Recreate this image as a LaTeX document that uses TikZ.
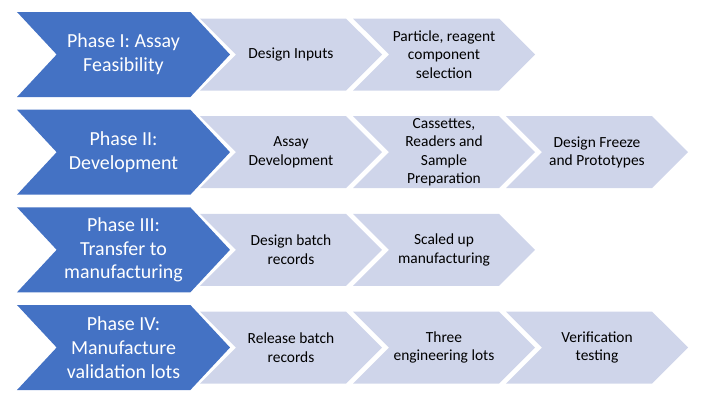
\documentclass[tikz,border=0pt]{standalone}
\usepackage{fontspec}
\setmainfont{Carlito}
\usetikzlibrary{shapes.symbols}
\definecolor{phaseblue}{RGB}{68, 114, 196}
\definecolor{steplilac}{RGB}{207, 213, 234}
\tikzstyle{chevron} = [
  signal,
  signal from=west,
  signal to=east,
  inner sep=0pt,
  align=center,
]
\tikzstyle{phasebox} = [
  chevron,
  fill=phaseblue,
  text=white,
  signal pointer angle=94,
  minimum width=213bp,
  minimum height=85bp,
  font=\fontsize{20}{24}\selectfont,
]
\tikzstyle{stepbox} = [
  chevron,
  fill=steplilac,
  text=black,
  signal pointer angle=90,
  minimum width=182bp,
  minimum height=72bp,
  font=\fontsize{15.5}{18.6}\selectfont,
]

\begin{document}
\begin{tikzpicture}[x=1bp, y=-1bp]
  \useasboundingbox (0,0) rectangle (720,405);

  % Phases
  \node[phasebox] (p1) at (123.5,54.5) {Phase I: Assay\\Feasibility};
  \node[phasebox] (p2) at (123.5,152.2) {Phase II:\\Development};
  \node[phasebox] (p3) at (123.5,249.8) {Phase III:\\Transfer to\\manufacturing};
  \node[phasebox] (p4) at (123.5,347.5) {Phase IV:\\Manufacture\\validation lots};

  % Steps of each phase
  \node[stepbox] (s11) at (291,54.5) {Design Inputs};
  \node[stepbox] (s12) at (444,54.5) {Particle, reagent\\component\\selection};

  \node[stepbox] (s21) at (291,152.2) {Assay\\Development};
  \node[stepbox] (s22) at (444,152.2) {Cassettes,\\Readers and\\Sample\\Preparation};
  \node[stepbox] (s23) at (597,152.2) {Design Freeze\\and Prototypes};

  \node[stepbox] (s31) at (291,249.8) {Design batch\\records};
  \node[stepbox] (s32) at (444,249.8) {Scaled up\\manufacturing};

  \node[stepbox] (s41) at (291,347.5) {Release batch\\records};
  \node[stepbox] (s42) at (444,347.5) {Three\\engineering lots};
  \node[stepbox] (s43) at (597,347.5) {Verification\\testing};
\end{tikzpicture}
\end{document}
